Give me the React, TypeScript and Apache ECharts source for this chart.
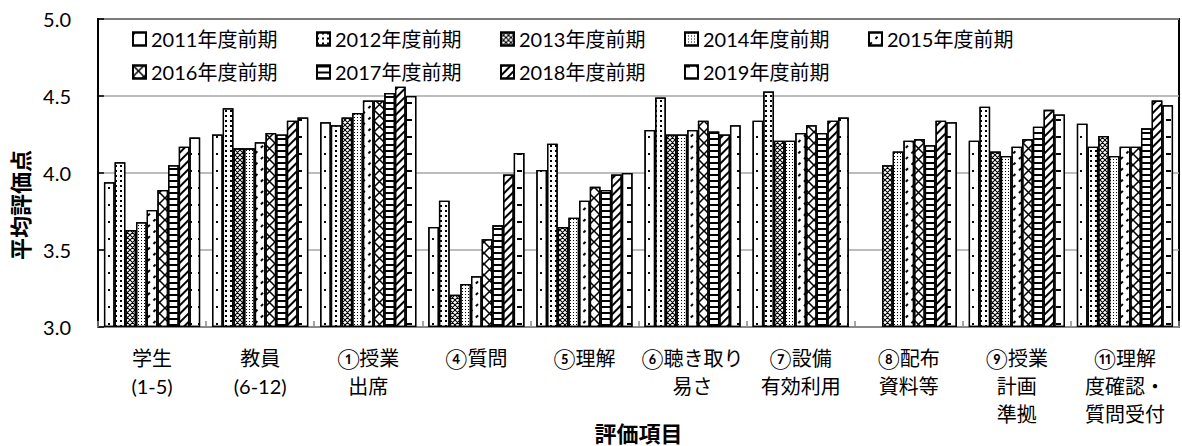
import React, { useEffect, useRef } from "react";
import * as echarts from "echarts";

const categories = [
  "学生\n(1-5)",
  "教員\n(6-12)",
  "①授業\n出席",
  "④質問",
  "⑤理解",
  "⑥聴き取り\n易さ",
  "⑦設備\n有効利用",
  "⑧配布\n資料等",
  "⑨授業\n計画\n準拠",
  "⑪理解\n度確認・\n質問受付",
];

const seriesNames = [
  "2011年度前期",
  "2012年度前期",
  "2013年度前期",
  "2014年度前期",
  "2015年度前期",
  "2016年度前期",
  "2017年度前期",
  "2018年度前期",
  "2019年度前期",
];

const v2011 = [3.94, 4.25, 4.33, 3.65, 4.02, 4.28, 4.34, null, 4.21, 4.32];
const v2012 = [4.07, 4.42, 4.31, 3.82, 4.19, 4.49, 4.53, null, 4.43, 4.17];
const v2013 = [3.63, 4.16, 4.36, 3.21, 3.65, 4.25, 4.21, 4.05, 4.14, 4.24];
const v2014 = [3.68, 4.16, 4.39, 3.28, 3.71, 4.25, 4.21, 4.14, 4.11, 4.11];
const v2015 = [3.76, 4.2, 4.47, 3.33, 3.82, 4.28, 4.26, 4.21, 4.17, 4.17];
const v2016 = [3.89, 4.26, 4.47, 3.57, 3.91, 4.34, 4.31, 4.22, 4.22, 4.17];
const v2017 = [4.05, 4.25, 4.52, 3.66, 3.89, 4.27, 4.26, 4.18, 4.3, 4.29];
const v2018 = [4.17, 4.34, 4.56, 3.99, 3.99, 4.25, 4.34, 4.34, 4.41, 4.47];
const v2019 = [4.23, 4.36, 4.5, 4.13, 4.0, 4.31, 4.36, 4.33, 4.38, 4.44];

const seriesValues = [v2011, v2012, v2013, v2014, v2015, v2016, v2017, v2018, v2019];

const yTicks = [3.0, 3.5, 4.0, 4.5, 5.0];
const yAxisTitle = "平均評価点";
const xAxisTitle = "評価項目";

const K = "#000";
const W = "#fff";
const xPath = (t: number) =>
  `path://M0,0 L${t},0 L10,${10 - t} L10,10 L${10 - t},10 L0,${t} Z M${10 - t},0 L10,0 L10,${t} L${t},10 L0,10 L0,${10 - t} Z`;

const decals: any[] = [
  { symbol: "rect", symbolSize: 1, color: K, backgroundColor: W, dashArrayX: [1.5, 9.5], dashArrayY: [1.5, 15] },
  { symbol: "rect", symbolSize: 1, color: K, backgroundColor: W, dashArrayX: [1.3, 2.7], dashArrayY: [1.3, 2.7] },
  { symbol: xPath(1.5), symbolSize: 1, color: K, backgroundColor: W, dashArrayX: [5, 0], dashArrayY: [5, 0] },
  { symbol: "rect", symbolSize: 1, color: K, backgroundColor: W, dashArrayX: [1, 1.2], dashArrayY: [1, 1.2] },
  { symbol: "rect", symbolSize: 1, color: K, backgroundColor: W, dashArrayX: [3, 5], dashArrayY: [1.2, 6], rotation: -Math.PI / 4 },
  { symbol: xPath(1), symbolSize: 1, color: K, backgroundColor: W, dashArrayX: [11, 0], dashArrayY: [11, 0] },
  { symbol: "rect", symbolSize: 1, color: K, backgroundColor: W, dashArrayX: [1, 0], dashArrayY: [1.6, 4] },
  { symbol: "rect", symbolSize: 1, color: K, backgroundColor: W, dashArrayX: [1, 0], dashArrayY: [1.2, 3.5], rotation: -Math.PI / 4 },
  { symbol: "rect", symbolSize: 1, color: K, backgroundColor: W, dashArrayX: [5, 6], dashArrayY: [1.6, 15] },
];

const FONT = "Lato, 'Noto Sans CJK JP', sans-serif";

export default function App() {
  const ref = useRef<HTMLDivElement>(null);

  useEffect(() => {
    document.body.style.margin = "0";
    if (!ref.current) return;
    const chart = echarts.init(ref.current, undefined, { renderer: "svg" });

    const series = seriesNames.map((name, i) => ({
      name,
      type: "bar",
      data: seriesValues[i],
      barGap: "0%",
      barCategoryGap: "11%",
      clip: true,
      itemStyle: {
        color: W,
        borderColor: K,
        borderWidth: 1.3,
        decal: decals[i],
      },
    }));

    const legendCommon = {
      orient: "horizontal",
      itemWidth: 13,
      itemHeight: 13,
      itemGap: 25,
      padding: 0,
      icon: "rect",
      textStyle: {
        fontFamily: FONT,
        fontSize: 20,
        color: "#000",
        width: 140,
        lineHeight: 22,
      },
    };

    chart.setOption({
      animation: false,
      aria: { enabled: false, decal: { show: false } },
      textStyle: { fontFamily: FONT },
      legend: [
        { ...legendCommon, left: 132, top: 28, data: seriesNames.slice(0, 5) },
        { ...legendCommon, left: 132, top: 61, data: seriesNames.slice(5) },
      ],
      graphic: [
        {
          type: "text",
          x: 20,
          y: 205,
          rotation: Math.PI / 2,
          style: {
            text: yAxisTitle,
            font: `bold 22px ${FONT}`,
            fill: "#000",
            align: "center",
            verticalAlign: "middle",
          },
        },
      ],
      grid: {
        left: 98,
        right: 3,
        top: 19,
        bottom: 119,
        outerBoundsMode: "none",
        containLabel: false,
        show: true,
        borderColor: "#000",
        borderWidth: 2,
        backgroundColor: "transparent",
      },
      xAxis: {
        type: "category",
        data: categories,
        name: xAxisTitle,
        nameLocation: "middle",
        nameGap: 95,
        nameMoveOverlap: false,
        nameTextStyle: { fontFamily: FONT, fontSize: 22, fontWeight: "bold", color: "#000" },
        axisLine: { lineStyle: { color: "#888", width: 2 } },
        axisTick: { show: true, inside: true, length: 6, lineStyle: { color: "#888", width: 1.5 } },
        axisLabel: {
          fontFamily: FONT,
          fontSize: 20,
          color: "#000",
          lineHeight: 28,
          margin: 17,
          interval: 0,
        },
        splitLine: { show: false },
      },
      yAxis: {
        type: "value",
        min: yTicks[0],
        max: yTicks[yTicks.length - 1],
        interval: 0.5,
        startValue: 3,
        axisLine: { show: true, lineStyle: { color: "#000", width: 2 } },
        axisTick: { show: true, inside: true, length: 6, lineStyle: { color: "#000", width: 1.5 } },
        axisLabel: {
          fontFamily: FONT,
          fontSize: 20,
          color: "#000",
          margin: 27,
          formatter: (v: number) => v.toFixed(1),
        },
        splitLine: { show: true, lineStyle: { color: "#a6a6a6", width: 1.5 } },
      },
      series,
    });

    return () => chart.dispose();
  }, []);

  return <div ref={ref} style={{ width: 1182, height: 446 }} />;
}
